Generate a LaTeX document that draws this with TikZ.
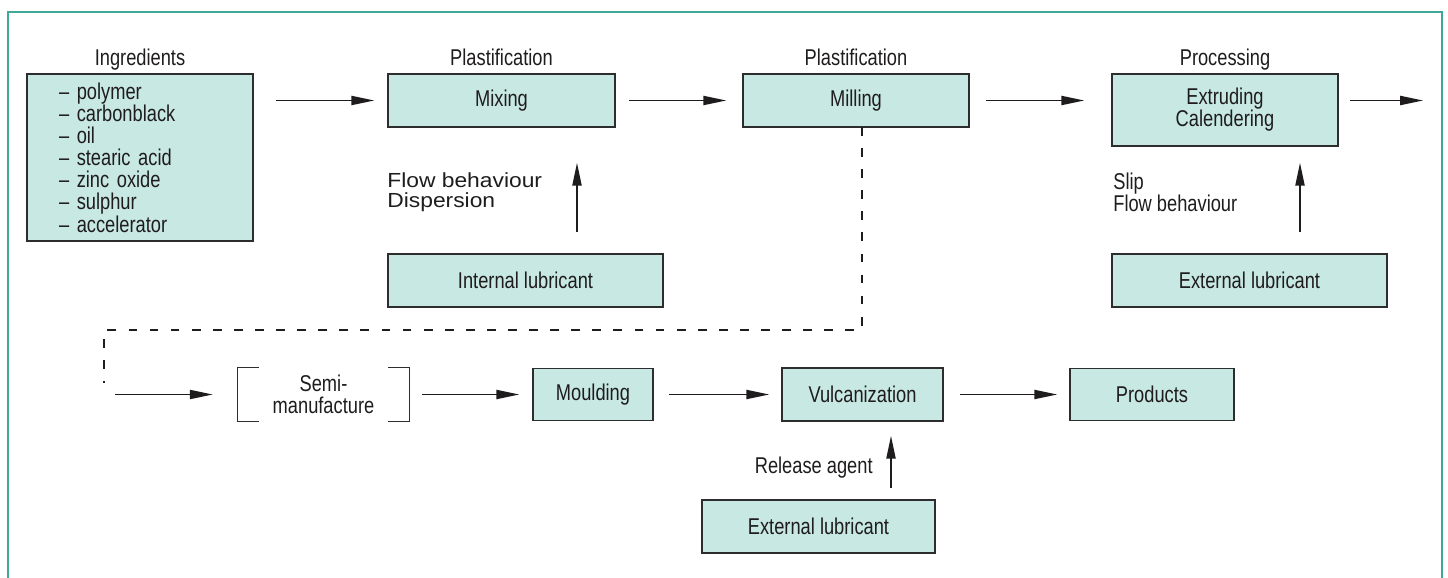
\documentclass[tikz,border=0pt]{standalone}
\usepackage{fontspec}
\setmainfont[FakeStretch=0.8]{Liberation Sans}
\newfontfamily\widefont[FakeStretch=1.12]{Liberation Sans}
\usepackage{xcolor}
\usetikzlibrary{
  arrows.meta,
  positioning,
  calc
}
\definecolor{xframe}{RGB}{64,168,152}
\definecolor{xfill}{RGB}{200,232,227}
\definecolor{xline}{RGB}{45,45,45}
\definecolor{xtext}{RGB}{30,28,28}

\begin{document}
\begin{tikzpicture}[
  x=0.02cm, y=-0.02cm,
  box/.style={draw=xline, fill=xfill, line width=0.9pt, inner sep=0pt,
              align=center, text=xtext, font=\fontsize{13}{12.6}\selectfont},
  stage/.style={inner sep=2pt, text depth=0.22em, text=xtext,
                font=\fontsize{13}{12.6}\selectfont},
  note/.style={inner sep=0pt, align=left, text=xtext,
               font=\fontsize{13}{12.2}\selectfont},
  arr/.style={-{Triangle[length=13pt,width=5.2pt]}, line width=0.9pt, color=xtext},
  dashline/.style={dash pattern=on 5pt off 7pt, line width=0.8pt, color=xtext},
  bracket/.style={line width=0.9pt, color=xline},
  frame/.style={draw=xframe, line width=1.3pt}
]
  \useasboundingbox (0,0) rectangle (1448,578);
  \draw[frame] (8,578) -- (8,12) -- (1442,12) -- (1442,578);

  % upper row
  \node[box, minimum width=4.52cm, minimum height=3.34cm, text width=3.24cm, align=left,
        label={[stage]above:Ingredients}] (ingr) at (140,157.5) {
    -- polymer\\
    -- carbonblack\\
    -- oil\\
    -- stearic acid\\
    -- zinc oxide\\
    -- sulphur\\
    -- accelerator
  };
  \node[box, minimum width=4.54cm, minimum height=1.06cm,
        label={[stage]above:Plastification}] (mix)  at (501.5,100.5) {Mixing};
  \node[box, minimum width=4.52cm, minimum height=1.06cm,
        label={[stage]above:Plastification}] (mill) at (856,100.5)   {Milling};
  \node[box, minimum width=4.52cm, minimum height=1.44cm,
        label={[stage]above:Processing}]     (extr) at (1225,110)    {Extruding\\Calendering};

  \node[box, minimum width=5.5cm, minimum height=1.06cm] (intl)  at (525.5,280.5)  {Internal lubricant};
  \node[box, minimum width=5.5cm, minimum height=1.06cm] (extla) at (1249.5,280.5) {External lubricant};

  \node[note, anchor=west, font=\widefont\fontsize{11.6}{11.6}\selectfont] (flow) at (387,192.5) {Flow behaviour\\Dispersion};
  \node[note, anchor=west] (slip) at (1113,192.5) {Slip\\Flow behaviour};

  % lower row
  \node[inner sep=0pt, minimum width=3.42cm, minimum height=1.06cm, align=center,
        text=xtext, font=\fontsize{13}{12.6}\selectfont] (semi) at (323.5,394.5) {Semi-\\manufacture};
  \node[box, minimum width=2.4cm,  minimum height=1.04cm] (mould) at (593,394.5)   {Moulding};
  \node[box, minimum width=3.22cm, minimum height=1.06cm] (vulc)  at (862.5,394.5) {Vulcanization};
  \node[box, minimum width=3.28cm, minimum height=1.04cm] (prod)  at (1152,394.5)  {Products};
  \node[box, minimum width=4.66cm, minimum height=1.06cm] (extlb) at (818.5,526.5) {External lubricant};
  \node[note, anchor=east] (rel) at (873,468) {Release agent};

  \draw[bracket] ([xshift=0.42cm]semi.north west) -| (semi.south west) -- ++(0.42cm,0);
  \draw[bracket] ([xshift=-0.42cm]semi.north east) -| (semi.south east) -- ++(-0.42cm,0);

  % free ends and turns
  \coordinate (out)   at (1423,100.5);
  \coordinate (feed)  at (115,394.5);
  \coordinate (dtop)  at (862,127);
  \coordinate (dturn) at (104,330);
  \coordinate (dend)  at (104,383);
  \coordinate (mixin) at (577,0);
  \coordinate (extin) at (1300,0);
  \coordinate (vulin) at (891,0);

  % connectors
  \draw[arr, shorten <=0.44cm, shorten >=0.26cm] (ingr.east |- mix) -- (mix);
  \draw[arr, shorten <=0.32cm, shorten >=0.54cm] (mill) -- (mill -| extr.west);
  \draw[arr, shorten <=0.22cm] (extr.east |- out) -- (out);
  \draw[arr, shorten >=0.5cm] (feed) -- (semi);
  \foreach \a/\b/\s/\t in {mix/mill/13/16, semi/mould/13/13, mould/vulc/15/12, vulc/prod/16/12}
    \draw[arr, shorten <=\s*0.02cm, shorten >=\t*0.02cm] (\a) -- (\b);

  \draw[arr, shorten <=0.42cm, shorten >=0.7cm]  (intl.north -| mixin)  -- (mix.south -| mixin);
  \draw[arr, shorten <=0.42cm, shorten >=0.32cm] (extla.north -| extin) -- (extr.south -| extin);
  \draw[arr, shorten <=0.22cm, shorten >=0.28cm] (extlb.north -| vulin) -- (vulc.south -| vulin);

  \draw[dashline] (dtop) |- (dturn) -- (dend);
\end{tikzpicture}
\end{document}
